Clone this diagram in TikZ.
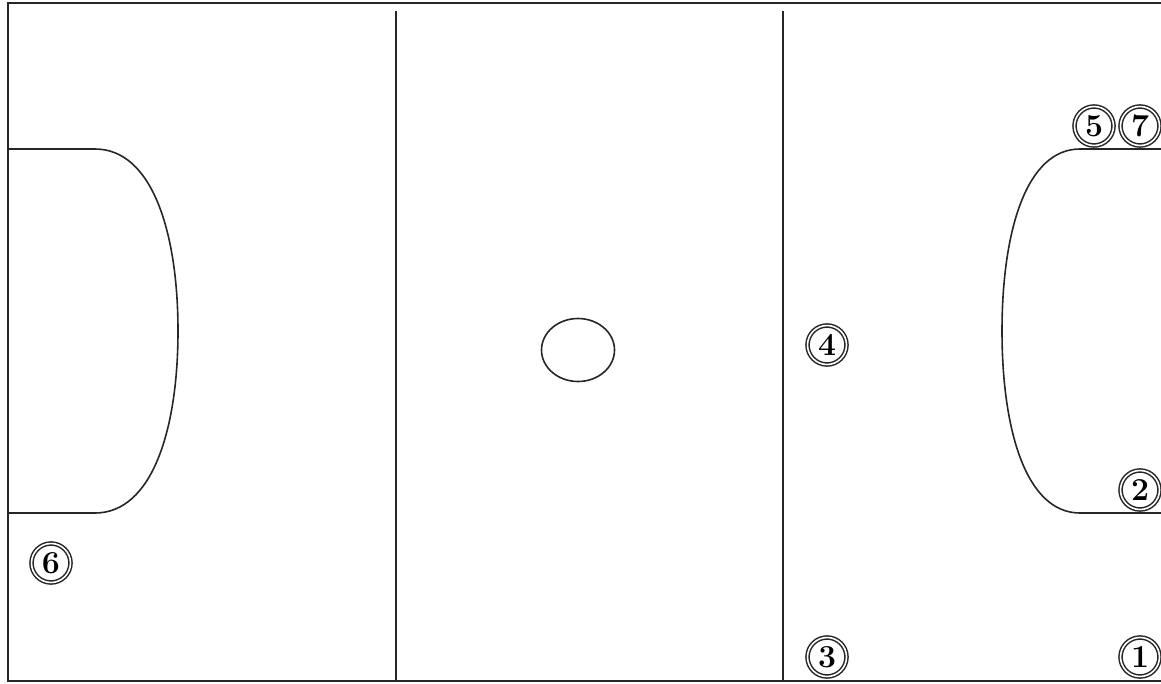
\documentclass[tikz,border=0pt]{standalone}
\usetikzlibrary{calc,shapes.geometric}
\begin{document}
\begin{tikzpicture}[x=1pt,y=-1pt,
  court/.style={line width=1.6pt,black!85},
  lane/.style={line width=2pt,black!85},
  player/.style={circle,draw=black!85,double=white,double distance=1.6pt,line width=1.5pt,
    inner sep=0pt,minimum size=39pt,font=\fontsize{32}{33}\selectfont\bfseries}]
\useasboundingbox (0,0) rectangle (1161,683);
% outer boundary
\coordinate (tr) at (1161,3);
\coordinate (tl) at (8,3);
\coordinate (bl) at (8,681);
\coordinate (br) at (1161,681);
\draw[court] (tr) -- (tl) -- (bl) -- (br);
% thirds
\coordinate (l1t) at (396,11);
\coordinate (l1b) at (396,681);
\coordinate (l2t) at (783,11);
\coordinate (l2b) at (783,681);
\draw[lane] (l1t) -- (l1b);
\draw[lane] (l2t) -- (l2b);
% left goal circle
\coordinate (la) at (8,149);
\coordinate (lb) at (8,513);
\draw[court] (la) -- (95,149) .. controls (152,149) and (178,232) .. (178,331)
  .. controls (178,430) and (152,513) .. (95,513) -- (lb);
% right goal circle
\coordinate (ra) at (1161,149);
\coordinate (rb) at (1161,513);
\draw[court] (ra) -- (1080,149) .. controls (1026,149) and (1002,232) .. (1002,331)
  .. controls (1002,430) and (1026,513) .. (1080,513) -- (rb);
% centre circle
\node[draw,court,ellipse,minimum width=73pt,minimum height=63pt,inner sep=0pt] (cc) at (578,350) {};
% players
\node[player] (p5) at (1094,126) {5};
\node[player] (p7) at (1140,126) {7};
\node[player] (p4) at (827,345) {4};
\node[player] (p6) at (51,563) {6};
\node[player] (p2) at (1140,490) {2};
\node[player] (p3) at (827,657) {3};
\node[player] (p1) at (1140,657) {1};
\end{tikzpicture}
\end{document}
